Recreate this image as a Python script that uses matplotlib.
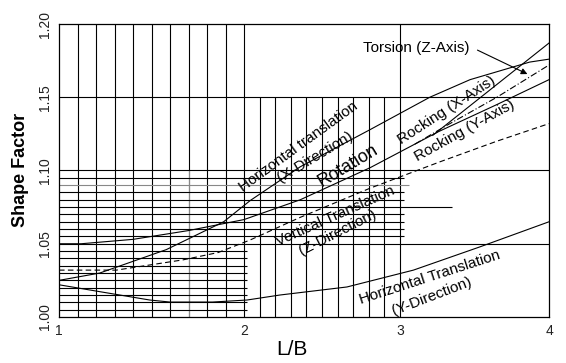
import numpy as np
import matplotlib
matplotlib.use("Agg")
import matplotlib.pyplot as plt

plt.rcParams['font.family'] = ['Liberation Sans', 'DejaVu Sans']

# ---- data (L/B, shape factor) ----
hy_lb = [1.0, 1.22, 1.49, 1.60, 1.83, 2.02, 2.23, 2.66, 3.09, 3.54, 4.0]
hy_sf = [1.022, 1.0173, 1.0116, 1.0102, 1.0102, 1.0116, 1.015, 1.0205, 1.032, 1.048, 1.065]

hx_lb = [1.0, 1.22, 1.58, 1.89, 2.04, 2.36, 2.81, 3.20, 3.47, 3.87, 4.0]
hx_sf = [1.025, 1.030, 1.046, 1.065, 1.0795, 1.1025, 1.128, 1.150, 1.162, 1.174, 1.176]

rot_lb = [1.0, 1.12, 1.40, 1.70, 2.0, 2.36, 2.81, 3.26, 3.65, 4.0]
rot_sf = [1.050, 1.050, 1.053, 1.059, 1.0665, 1.080, 1.102, 1.1266, 1.145, 1.162]

vert_lb = [1.0, 1.31, 1.67, 1.86, 2.04, 2.36, 2.81, 3.27, 3.65, 4.0]
vert_sf = [1.032, 1.032, 1.039, 1.044, 1.0526, 1.068, 1.088, 1.106, 1.120, 1.132]

rockx_lb = [3.22, 4.0]
rockx_sf = [1.124, 1.187]

tors_lb = [3.10, 3.30, 3.65, 4.0]
tors_sf = [1.118, 1.130, 1.150, 1.172]

x_ticks = [1, 2, 3, 4]
y_ticks = [1.00, 1.05, 1.10, 1.15, 1.20]
y_ticklabels = ["1.00", "1.05", "1.10", "1.15", "1.20"]

# hand drawn x axis: uneven spacing between 1, 2, 3, 4
lb_knots = [1, 2, 3, 4]
px_knots = [0, 185, 341, 490]


def fwd(x):
    x = np.asarray(x, dtype=float)
    v = np.interp(x, lb_knots, px_knots)
    v = np.where(x < 1, (x - 1) * 185, v)
    v = np.where(x > 4, 490 + (x - 4) * 149, v)
    return v


def inv(v):
    v = np.asarray(v, dtype=float)
    x = np.interp(v, px_knots, lb_knots)
    x = np.where(v < 0, 1 + v / 185, x)
    x = np.where(v > 490, 4 + (v - 490) / 149, x)
    return x


fig = plt.figure(figsize=(5.66, 3.63), dpi=100)
ax = fig.add_axes([59 / 566, 1 - 317 / 363, 490 / 566, 293 / 363])
ax.set_xscale('function', functions=(fwd, inv))
ax.set_xlim(1, 4)
ax.set_ylim(1.0, 1.2)

gkw = dict(color='k', lw=0.8, zorder=1)
# vertical grid
ax.vlines(np.arange(1.1, 2.05, 0.1), 1.0, 1.2, **gkw)
ax.vlines(np.arange(2.1, 2.95, 0.1), 1.0, 1.15, **gkw)
ax.vlines([3.0], 1.0, 1.2, **gkw)
ax.vlines([1.7], 1.0, 1.1, color='#888888', lw=0.8, zorder=1)
# horizontal grid
ax.hlines([1.05, 1.10, 1.15], 1, 4, **gkw)
ax.hlines(np.arange(1.005, 1.046, 0.005), 1, 2.02, **gkw)
ax.hlines([1.055, 1.06, 1.065, 1.07, 1.08, 1.085, 1.095], 1, 3.03, **gkw)
ax.hlines([1.075], 1, 3.35, **gkw)
ax.hlines([1.09], 1, 3.06, color='#888888', lw=0.8, zorder=1)

# curves
ckw = dict(color='k', lw=0.8, zorder=3)
ax.plot(hy_lb, hy_sf, **ckw)
ax.plot(hx_lb, hx_sf, **ckw)
ax.plot(rot_lb, rot_sf, **ckw)
ax.plot(rockx_lb, rockx_sf, **ckw)
ax.plot(vert_lb, vert_sf, color='k', lw=0.8, ls=(0, (5, 3)), zorder=3)
ax.plot(tors_lb, tors_sf, color='k', lw=0.8, ls=(0, (6, 2, 1, 2)), zorder=3)

# curve labels
tkw = dict(fontsize=11, ha='center', va='center', rotation_mode='anchor')
ax.text(2.35, 1.116, "Horizontal translation", rotation=36, **tkw)
ax.text(2.455, 1.109, "(X-Direction)", rotation=31, **tkw)
ax.text(2.667, 1.103, "Rotation", rotation=31, fontsize=13, ha='center', va='center',
        rotation_mode='anchor')
ax.text(3.315, 1.1413, "Rocking (X-Axis)", rotation=33, **tkw)
ax.text(3.436, 1.127, "Rocking (Y-Axis)", rotation=29, **tkw)
ax.text(2.583, 1.069, "Vertical Translation", rotation=24, **tkw)
ax.text(2.603, 1.058, "(Z-Direction)", rotation=27, **tkw)
ax.text(3.201, 1.0273, "Horizontal Translation", rotation=18, **tkw)
ax.text(3.215, 1.0143, "(Y-Direction)", rotation=21, **tkw)
ax.text(3.107, 1.1836, "Torsion (Z-Axis)", fontsize=11, ha='center', va='center')
ax.annotate("", xy=(3.872, 1.165), xytext=(3.503, 1.183),
            arrowprops=dict(arrowstyle='-|>', color='k', lw=0.8, mutation_scale=9))

# axes
ax.set_xticks(x_ticks)
ax.set_xticklabels([str(t) for t in x_ticks], fontsize=10, color='#222222')
ax.set_yticks(y_ticks)
ax.set_yticklabels(y_ticklabels, fontsize=10, rotation=90, va='center', color='#222222')
ax.tick_params(length=0, pad=5)
ax.minorticks_off()
for s in ax.spines.values():
    s.set_linewidth(0.9)
    s.set_color('k')

ax.set_xlabel("L/B", fontsize=15)
ax.xaxis.set_label_coords(0.4755, -0.08)
ax.set_ylabel("Shape Factor", fontsize=13, fontweight='bold')
ax.yaxis.set_label_coords(-0.062, 0.502)

fig.savefig("out.png", dpi=100)
